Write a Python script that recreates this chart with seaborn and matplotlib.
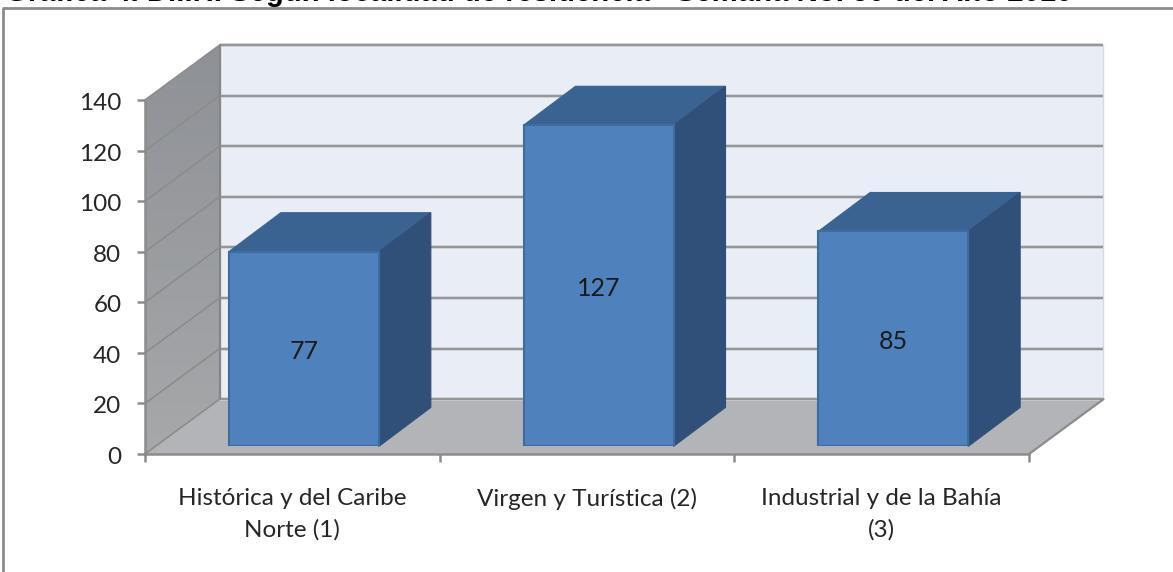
import numpy as np
import pandas as pd
import seaborn as sns
import matplotlib
matplotlib.use("Agg")
import matplotlib.pyplot as plt
from matplotlib.patches import Polygon
from matplotlib.lines import Line2D
from matplotlib.transforms import ScaledTranslation

# ---- data ----
categories = ["Histórica y del Caribe\nNorte (1)", "Virgen y Turística (2)", "Industrial y de la Bahía\n(3)"]
values = [77, 127, 85]
y_ticks = [0, 20, 40, 60, 80, 100, 120, 140]
title = "Gráfica 4. D.I.H. Según localidad de residencia - Semana No. 50 del Año 2010"

W, H = 1173, 572
sns.set_theme(style="white")
plt.rcParams['font.family'] = ['Lato', 'DejaVu Sans']
fig = plt.figure(figsize=(W / 100, H / 100), dpi=100, facecolor="white")


def rect(l, r, bottom, top):
    return [l / W, 1 - bottom / H, (r - l) / W, (bottom - top) / H]


GRID = "#8c8c8c"
TXT = "#262626"
AX_L, AX_R, AX_B, AX_T = 145, 1029, 454, 100
px_x = (AX_R - AX_L) / 3
px_y = (AX_B - AX_T) / 140
WALL_DX, WALL_DY = 74.5 / px_x, 54.8 / px_y
BAR_DX, BAR_DY = 52 / px_x, 39 / px_y
OFF_X, OFF_Y = 11.5, 7.6

# --- main (axis) plane ---
ax = fig.add_axes(rect(AX_L, AX_R, AX_B, AX_T), zorder=1)
ax.patch.set_alpha(0)
ax.set_xlim(-0.5, 2.5)
ax.set_ylim(0, 140)
x0, x1 = -0.5, 2.5

# back wall
ax.add_patch(Polygon([(x0 + WALL_DX, WALL_DY), (x1 + WALL_DX, WALL_DY), (x1 + WALL_DX, 140 + WALL_DY),
                      (x0 + WALL_DX, 140 + WALL_DY)], fc="#e9edf6", ec="#d5d9e2", lw=1, clip_on=False, zorder=1))
# left wall with vertical gradient
side = Polygon([(x0, 0), (x0 + WALL_DX, WALL_DY), (x0 + WALL_DX, 140 + WALL_DY), (x0, 140)],
               fc="none", ec="none", clip_on=False, zorder=1)
ax.add_patch(side)
grad = np.linspace(0, 1, 64).reshape(-1, 1)
im = ax.imshow(grad, extent=(x0, x0 + WALL_DX, 0, 140 + WALL_DY), origin="upper", aspect="auto",
               cmap=matplotlib.colors.LinearSegmentedColormap.from_list("w", ["#8e9196", "#a6a8aa"]),
               zorder=1)
im.set_clip_box(fig.bbox)
im.set_clip_path(side)
ax.set_xlim(-0.5, 2.5)
ax.set_ylim(0, 140)
# floor
ax.add_patch(Polygon([(x0, 0), (x1, 0), (x1 + WALL_DX, WALL_DY), (x0 + WALL_DX, WALL_DY)],
                     fc="#b2b4b7", ec="none", clip_on=False, zorder=1.5))
ax.plot([x1, x1 + WALL_DX], [0, WALL_DY], color=GRID, lw=1.6, clip_on=False, zorder=2)
ax.plot([x0 + WALL_DX] * 2, [WALL_DY, 140 + WALL_DY], color="#868686", lw=1.6, clip_on=False, zorder=2)
# gridlines wrapping walls
for v in y_ticks:
    ax.plot([x0 + WALL_DX, x1 + WALL_DX], [v + WALL_DY] * 2, color="#c8ccd3", lw=2.6, clip_on=False, zorder=1.8,
            solid_capstyle="butt")
    ax.plot([x0 + WALL_DX, x1 + WALL_DX], [v + WALL_DY] * 2, color=GRID, lw=1.2, clip_on=False, zorder=2,
            solid_capstyle="butt")
    ax.plot([x0, x0 + WALL_DX], [v, v + WALL_DY], color=GRID, lw=1.2, clip_on=False, zorder=2)

# axes and ticks
for s in ["top", "right"]:
    ax.spines[s].set_visible(False)
for s in ["left", "bottom"]:
    ax.spines[s].set_color(GRID)
    ax.spines[s].set_linewidth(1.8)
    ax.spines[s].set_zorder(2.5)
ax.set_yticks(y_ticks)
ax.set_yticklabels([str(v) for v in y_ticks])
ax.set_xticks([-0.5, 0.5, 1.5, 2.5])
ax.set_xticklabels([])
ax.set_xticks([0, 1, 2], minor=True)
ax.set_xticklabels(categories, minor=True, fontsize=17.5, color=TXT, linespacing=1.6)
ax.tick_params(axis="x", which="major", length=6, width=1.8, color=GRID, bottom=True)
ax.tick_params(axis="x", which="minor", length=0, pad=24.5, bottom=False)
ax.tick_params(axis="y", which="major", length=6, width=1.8, color=GRID, left=True, pad=11,
               labelsize=17.5, labelcolor=TXT)
shift = ScaledTranslation(0, -1.5 / 100, fig.dpi_scale_trans)
for lab in ax.get_yticklabels():
    lab.set_verticalalignment("center_baseline")
    lab.set_transform(lab.get_transform() + shift)
ax.grid(False)

# --- bars on a plane slightly behind the axis plane ---
bx = fig.add_axes(rect(AX_L + OFF_X, AX_R + OFF_X, AX_B - OFF_Y, AX_T - OFF_Y), zorder=3)
bx.patch.set_alpha(0)
df = pd.DataFrame({"localidad": categories, "casos": values})
sns.barplot(data=df, x="localidad", y="casos", ax=bx, width=150 / px_x, color="#4f81bd", saturation=1,
            edgecolor="#3d6ca3", linewidth=1.5, zorder=3)
bx.set_xlim(-0.5, 2.5)
bx.set_ylim(0, 140)
bx.axis("off")
for bar, v in zip(bx.patches, values):
    xl, xr = bar.get_x(), bar.get_x() + bar.get_width()
    bx.add_patch(Polygon([(xl, v), (xr, v), (xr + BAR_DX, v + BAR_DY), (xl + BAR_DX, v + BAR_DY)],
                         fc="#3b6391", ec="#3b6391", lw=0.8, clip_on=False, zorder=2))
    bx.add_patch(Polygon([(xr, 0), (xr + BAR_DX, BAR_DY), (xr + BAR_DX, v + BAR_DY), (xr, v)],
                         fc="#30507a", ec="#30507a", lw=0.8, clip_on=False, zorder=2))
    bx.annotate(str(v), ((xl + xr) / 2, v / 2), xytext=(0, -1.8), textcoords="offset points",
                ha="center", va="center", fontsize=18, color="#1a1a1a", zorder=5)

# --- frame and cut-off title ---
fig.add_artist(Line2D([2.5 / W, 2.5 / W, 1], [0, 1 - 8 / H, 1 - 8 / H], color="#8c8c8c", lw=2))
fig.text(5 / W, 1 - 1 / H, title, ha="left", va="baseline", fontsize=21.1, fontweight="bold", color="black",
         family=["Liberation Sans", "DejaVu Sans"])

fig.savefig("out.png", dpi=100)
